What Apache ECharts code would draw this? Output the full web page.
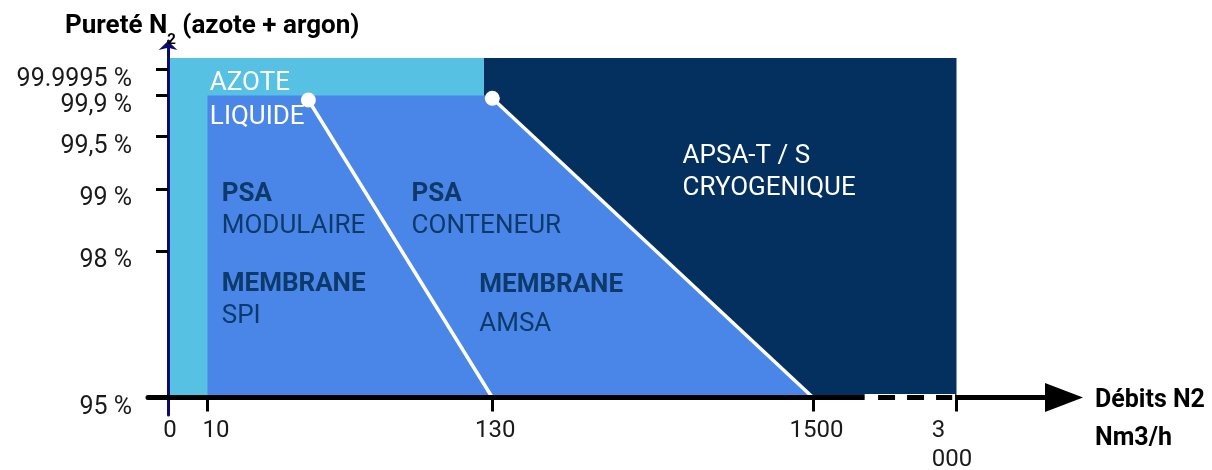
<!DOCTYPE html>
<html>
<head>
<meta charset="utf-8">
<script src="https://cdn.jsdelivr.net/npm/echarts@6/dist/echarts.min.js"></script>
<style>
  html, body { margin: 0; padding: 0; background: #ffffff; }
  #chart { width: 1212px; height: 470px; }
</style>
</head>
<body>
<div id="chart"></div>
<script>
// ---------- Broken (schematic) axis scales ----------
const xBreakValues = [0, 10, 130, 1500, 3000];            // flow Nm3/h
const xBreakSlots  = [0, 39.5, 324.3, 645, 788.5];        // share of axis length
const yBreakValues = [95, 98, 99, 99.5, 99.9, 99.9995, 100]; // purity %
const yBreakSlots  = [0, 146.5, 208.5, 261, 302, 328, 339.5];

// ---------- Tick labels ----------
const xTickValues = [0, 10, 130, 1500, 3000];
const xTickLabels = ['0', '10', '130', '1500', '3 000'];
const yTickValues = [95, 98, 99, 99.5, 99.9, 99.9995];
const yTickLabels = ['95 %', '98 %', '99 %', '99,5 %', '99,9 %', '99.9995 %'];

// ---------- Technology domains (flow, purity) ----------
const regionLiquidN2    = [[0, 95], [0, 100], [126.5, 100], [126.5, 95]];
const regionPsaMembrane = [[10, 95], [10, 99.9], [126.5, 99.9], [130, 99.873], [1500, 95]];
const regionCryogenic   = [[126.5, 100], [3000, 100], [3000, 95], [1500, 95], [130, 99.873], [126.5, 99.9]];
const limitModulaire    = [[52.5, 99.856], [130, 95]];
const limitConteneur    = [[130, 99.873], [1500, 95]];
const xAxisBreak        = [2040, 2985];   // dashed (broken) part of the flow axis
const xAxisBreakDashes  = [2180, 2955];

// ---------- Annotations ----------
const annotationTitles = ['AZOTE', 'PSA', 'MEMBRANE', 'PSA', 'MEMBRANE', 'APSA-T / S'];
const annotationSubs   = ['LIQUIDE', 'MODULAIRE', 'SPI', 'CONTENEUR', 'AMSA', 'CRYOGENIQUE'];
const annotationFlow   = [11, 16, 16, 96, 124.5, 943];
const annotationPurity = [99.851, 98.653, 96.988, 98.653, 96.888, 99.161];

// ---------- helpers ----------
function piecewise(v, dom, rng) {
  let i = 0;
  if (v <= dom[0]) i = 0;
  else if (v >= dom[dom.length - 1]) i = dom.length - 2;
  else { while (i < dom.length - 2 && v > dom[i + 1]) i++; }
  const t = (v - dom[i]) / (dom[i + 1] - dom[i]);
  return rng[i] + t * (rng[i + 1] - rng[i]);
}
const xs = v => piecewise(v, xBreakValues, xBreakSlots);
const ys = v => piecewise(v, yBreakValues, yBreakSlots);
const pt = p => [xs(p[0]), ys(p[1])];

const FONT = 'Roboto';
const TXT = '#1a1a1a';
const NAVY_TXT = '#0d3a6b';

function polygonSeries(name, pts, color, z) {
  const data = pts.map(pt);
  return {
    type: 'custom', name, z, silent: true, clip: false,
    coordinateSystem: 'cartesian2d', encode: { x: 0, y: 1 },
    data,
    renderItem(params, api) {
      if (params.dataIndex !== 0) return null;
      return { type: 'polygon', shape: { points: data.map(d => api.coord(d)) }, style: { fill: color } };
    }
  };
}

function lineSeries(name, pts) {
  return {
    type: 'line', name, z: 3, silent: true, data: pts.map(pt),
    symbol: 'none', lineStyle: { color: '#ffffff', width: 3.5, opacity: 1 }
  };
}

const xLabelSlots = xTickValues.map(xs);
const yLabelSlots = yTickValues.map(ys);
function nearestIndex(arr, v) {
  let best = 0;
  for (let i = 1; i < arr.length; i++) if (Math.abs(arr[i] - v) < Math.abs(arr[best] - v)) best = i;
  return best;
}

const xRichBase = { fontFamily: FONT, fontSize: 24, lineHeight: 29, color: TXT };
const xRich = {
  l0: Object.assign({ padding: [0, 0, 0, 4] }, xRichBase),
  l1: Object.assign({ padding: [0, 0, 0, 17] }, xRichBase),
  l2: Object.assign({ padding: [0, 0, 0, 6] }, xRichBase),
  l3: Object.assign({ padding: [0, 0, 0, 7] }, xRichBase),
  l4a: Object.assign({ padding: [0, 36, 0, 0] }, xRichBase),
  l4b: Object.assign({ padding: [0, 9, 0, 0] }, xRichBase)
};

const annotationLineHeights = [34, 32, 32, 32, 39, 32];
const annotationPoints = annotationFlow.map((f, i) => [xs(f), ys(annotationPurity[i])]);

const chart = echarts.init(document.getElementById('chart'), null, { renderer: 'canvas' });
chart.setOption({
  animation: false,
  backgroundColor: '#ffffff',
  title: [
    {
      text: '{t|Pureté N}{s|2}{t| (azote + argon)}',
      left: 65, top: 11, padding: 0,
      textStyle: {
        rich: {
          t: { fontFamily: FONT, fontSize: 26, fontWeight: 'bold', color: '#000', lineHeight: 30 },
          s: { fontFamily: FONT, fontSize: 15, fontWeight: 'bold', color: '#000', lineHeight: 15, padding: [28, 0, 0, 0] }
        }
      }
    },
    {
      text: 'Débits N2\nNm3/h',
      left: 1095, top: 382, padding: 0,
      textStyle: { fontFamily: FONT, fontSize: 25, fontWeight: 'bold', color: '#000', lineHeight: 38 }
    }
  ],
  grid: { left: 148, right: 148, top: 41, bottom: 55, containLabel: false, outerBoundsMode: 'none' },
  xAxis: {
    type: 'value', min: -20, max: 896, z: 5,
    splitLine: { show: false },
    axisLine: {
      onZero: true,
      lineStyle: { color: '#000', width: 5 },
      symbol: ['none', 'triangle'], symbolSize: [29, 38]
    },
    axisTick: {
      show: true, customValues: [10, 130, 1500, 3000].map(xs), length: 14,
      lineStyle: { color: '#000', width: 3 }
    },
    axisLabel: {
      customValues: xLabelSlots, margin: 1.5,
      formatter: v => {
        const i = nearestIndex(xLabelSlots, v);
        if (i === 4) return '{l4a|3}\n{l4b|000}';
        return '{l' + i + '|' + xTickLabels[i] + '}';
      },
      rich: xRich
    }
  },
  yAxis: {
    type: 'value', min: -17.5, max: 356.5, z: 4,
    splitLine: { show: false },
    axisLine: {
      onZero: true,
      lineStyle: { color: '#0a0a6a', width: 3 },
      symbol: ['none', 'arrow'], symbolSize: [14, 9]
    },
    axisTick: {
      show: true, customValues: yLabelSlots, length: 12,
      lineStyle: { color: '#000', width: 3 }
    },
    axisLabel: {
      customValues: yLabelSlots, margin: 16,
      fontFamily: FONT, fontSize: 25, color: TXT,
      verticalAlign: 'top', lineHeight: 20,
      formatter: v => yTickLabels[nearestIndex(yLabelSlots, v)]
    }
  },
  series: [
    polygonSeries('AZOTE LIQUIDE', regionLiquidN2, '#56c1e2', 1),
    polygonSeries('PSA / MEMBRANE', regionPsaMembrane, '#4a86e7', 1),
    polygonSeries('APSA-T / S CRYOGENIQUE', regionCryogenic, '#03305f', 1),
    lineSeries('Limite modulaire', limitModulaire),
    lineSeries('Limite conteneur', limitConteneur),
    {
      type: 'scatter', name: 'Limites', z: 3, silent: true,
      data: [limitModulaire[0], limitConteneur[0]].map(pt),
      symbol: 'circle', symbolSize: 15, itemStyle: { color: '#ffffff', opacity: 1 }
    },
    {
      type: 'custom', name: 'Annotations', z: 3, silent: true, clip: false,
      coordinateSystem: 'cartesian2d', encode: { x: 0, y: 1 },
      data: annotationPoints,
      renderItem(params, api) {
        const i = params.dataIndex;
        const white = (i === 0 || i === 5);
        const color = white ? '#ffffff' : NAVY_TXT;
        const lh = annotationLineHeights[i];
        const p = api.coord(annotationPoints[i]);
        return {
          type: 'text', x: p[0], y: p[1],
          style: {
            text: '{' + (white ? 'r' : 'b') + '|' + annotationTitles[i] + '}\n{r|' + annotationSubs[i] + '}',
            align: 'left', verticalAlign: 'middle',
            fill: color, fontFamily: FONT, fontSize: 26,
            rich: {
              b: { fontFamily: FONT, fontSize: 26, fontWeight: 'bold', lineHeight: lh, fill: color, color: color },
              r: { fontFamily: FONT, fontSize: 26, fontWeight: 'normal', lineHeight: lh, fill: color, color: color }
            }
          }
        };
      }
    },
    {
      type: 'custom', name: 'Axis break', z: 6, silent: true, clip: false,
      coordinateSystem: 'cartesian2d', encode: { x: 0, y: 1 },
      data: [[xs(xAxisBreak[0]), 0]],
      renderItem(params, api) {
        const a = api.coord([xs(xAxisBreak[0]), 0]);
        const b = api.coord([xs(xAxisBreak[1]), 0]);
        const c = api.coord([xs(xAxisBreakDashes[0]), 0]);
        const d = api.coord([xs(xAxisBreakDashes[1]), 0]);
        return {
          type: 'group',
          children: [
            { type: 'line', shape: { x1: a[0], y1: a[1], x2: b[0], y2: b[1] }, style: { stroke: '#ffffff', lineWidth: 7 } },
            { type: 'line', shape: { x1: c[0], y1: c[1], x2: d[0], y2: d[1] }, style: { stroke: '#000000', lineWidth: 5, lineDash: [17, 12] } }
          ]
        };
      }
    }
  ]
});
</script>
</body>
</html>
